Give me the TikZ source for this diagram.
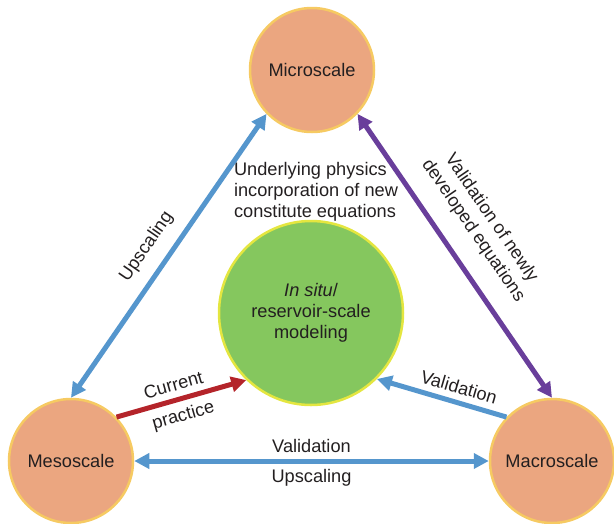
\documentclass[tikz,border=0pt]{standalone}
\usepackage{fontspec}
\setmainfont{Liberation Sans}
\usetikzlibrary{arrows.meta}
\definecolor{scfill}{RGB}{235,166,128}
\definecolor{scline}{RGB}{246,202,98}
\definecolor{mdfill}{RGB}{133,199,94}
\definecolor{mdline}{RGB}{228,230,64}
\definecolor{arblue}{RGB}{85,150,205}
\definecolor{arpurple}{RGB}{105,62,155}
\definecolor{arred}{RGB}{180,36,42}
\definecolor{txt}{RGB}{35,31,32}

\begin{document}
\begin{tikzpicture}[x=1pt,y=-1pt,
  every node/.style={text=txt,font=\fontsize{18.2}{21}\selectfont,},%
  sc/.style={circle,fill=scfill,draw=scline,line width=2.5pt,%
    minimum size=124pt,inner sep=0pt,},%
  md/.style={circle,fill=mdfill,draw=mdline,line width=2.5pt,%
    minimum size=184pt,inner sep=0pt,align=center,},%
  ar/.style={line width=5pt,-{Triangle[length=15pt,width=15pt]},},%
  ra/.style={line width=5pt,{Triangle[length=15pt,width=15pt]}-,},%
  dar/.style={line width=5pt,{Triangle[length=15pt,width=15pt]}-{Triangle[length=15pt,width=15pt]},},%
  bl/.style={draw=arblue,fill=arblue,},%
  pu/.style={draw=arpurple,fill=arpurple,},%
  rd/.style={draw=arred,fill=arred,},%
  ]
  \useasboundingbox (0,0) rectangle (614,523);
  \node (mi) [sc] at (312,70) {Microscale};
  \node (me) [sc] at (71,461) {Mesoscale};
  \node (ma) [sc] at (552,461) {Macroscale};
  \node (rs) [md] at (311,313) {\textit{In situ}/\\reservoir-scale\\modeling};
  \node (up) [align=left] at (316,192) {Underlying physics\\incorporation of new\\constitute equations};
  \draw [dar,bl] (me.90) -- node [sloped,above=9pt,pos=.485,fill=none] {Upscaling} (mi.224);
  \draw [dar,pu] (mi.-44) -- node [sloped,above=15pt,pos=.47,align=center,fill=none,%
    font=\fontsize{18.2}{22}\selectfont] {Validation of newly\\developed equations} (ma.90);
  \draw [ar,rd] (me.44) -- node [sloped,above=3pt,pos=.47,fill=none] {Current}
    node [sloped,below=3pt,pos=.48,fill=none] {practice} (rs.226);
  \draw [ra,bl] (rs.-45) -- node [sloped,above=3pt,pos=.6,fill=none] {Validation} (ma.136);
  \draw [dar,bl] (me.0) -- node [above=2pt,fill=none] {Validation}
    node [below=2pt,fill=none] {Upscaling} (ma.180);
\end{tikzpicture}
\end{document}
